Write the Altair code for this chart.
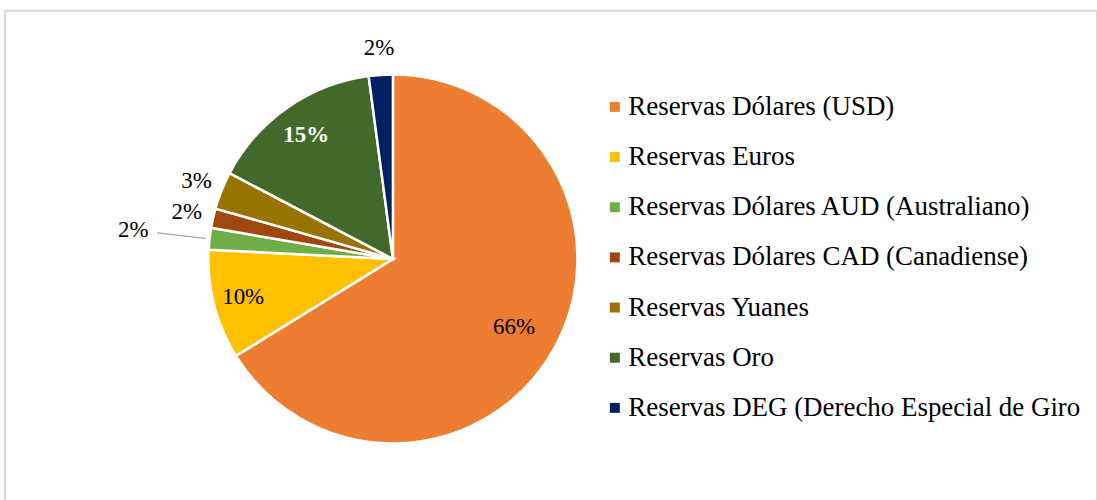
import altair as alt
import pandas as pd

categories = [
    "Reservas Dólares (USD)",
    "Reservas Euros",
    "Reservas Dólares AUD (Australiano)",
    "Reservas Dólares CAD (Canadiense)",
    "Reservas Yuanes",
    "Reservas Oro",
    "Reservas DEG (Derecho Especial de Giro",
]
values = [66.2, 9.6, 1.9, 1.7, 3.3, 15.2, 2.1]
colors = ["#ED7D31", "#FFC000", "#70AD47", "#9E480E", "#997300", "#43682B", "#002060"]

df = pd.DataFrame({"cat": categories, "value": values, "idx": list(range(len(values)))})

FONT = "Liberation Serif"
CX, CY, R = 389, 249, 185

base = alt.Chart(df).transform_joinaggregate(
    total="sum(value)"
).transform_calculate(
    lab="format(datum.value / datum.total, '.0%')"
)

theta = alt.Theta("value:Q", stack=True)
order = alt.Order("idx:Q", sort="ascending")

arcs = base.mark_arc(outerRadius=R, stroke="white", strokeWidth=2.5).encode(
    theta=theta,
    order=order,
    color=alt.Color(
        "cat:N",
        scale=alt.Scale(domain=categories, range=colors),
        sort=categories,
        legend=alt.Legend(
            title=None,
            orient="none",
            legendX=598,
            legendY=83,
            padding=0,
            symbolType="square",
            symbolSize=100,
            symbolStrokeWidth=0,
            labelFont=FONT,
            labelFontSize=27,
            labelColor="#000000",
            labelOffset=0,
            labelLimit=700,
            rowPadding=22.3,
        ),
    ),
    x=alt.value(CX),
    y=alt.value(CY),
)


def label_layer(idxs, radius, color="#000000", weight="normal"):
    cond = " || ".join(f"datum.idx == {i}" for i in idxs)
    return base.transform_calculate(
        t=f"({cond}) ? datum.lab : ''"
    ).mark_text(
        radius=radius, font=FONT, fontSize=23, color=color, fontWeight=weight
    ).encode(
        theta=theta,
        order=order,
        text="t:N",
        x=alt.value(CX),
        y=alt.value(CY),
    )


t_usd = label_layer([0], 139)
t_eur = label_layer([1], 155)
t_oro = label_layer([5], 152, color="white", weight="bold")
t_out = label_layer([3, 4, 6], 212)
t_aud = label_layer([2], 262)

leader = base.transform_window(
    cum="sum(value)", sort=[alt.SortField("idx", order="ascending")]
).transform_calculate(
    mid="(datum.cum - datum.value / 2) / datum.total * 2 * PI",
).transform_filter(
    "datum.idx == 2"
).transform_calculate(
    lx1=f"{CX} + 238 * sin(datum.mid)",
    ly1=f"{CY} - 238 * cos(datum.mid)",
    lx2=f"{CX} + 189 * sin(datum.mid)",
    ly2=f"{CY} - 189 * cos(datum.mid)",
).mark_rule(color="#a6a6a6", strokeWidth=1.3).encode(
    x=alt.X("lx1:Q", scale=None, axis=None),
    y=alt.Y("ly1:Q", scale=None, axis=None),
    x2="lx2:Q",
    y2="ly2:Q",
)

chart = alt.layer(arcs, leader, t_usd, t_eur, t_oro, t_out, t_aud).properties(
    width=1095,
    height=495,
    padding={"left": 5, "top": 10, "right": 0, "bottom": 0},
    autosize="none",
    background="white",
).configure_view(stroke="#d9d9d9", strokeWidth=2)

chart.save("out.html", embed_options={"renderer": "svg", "actions": False})
